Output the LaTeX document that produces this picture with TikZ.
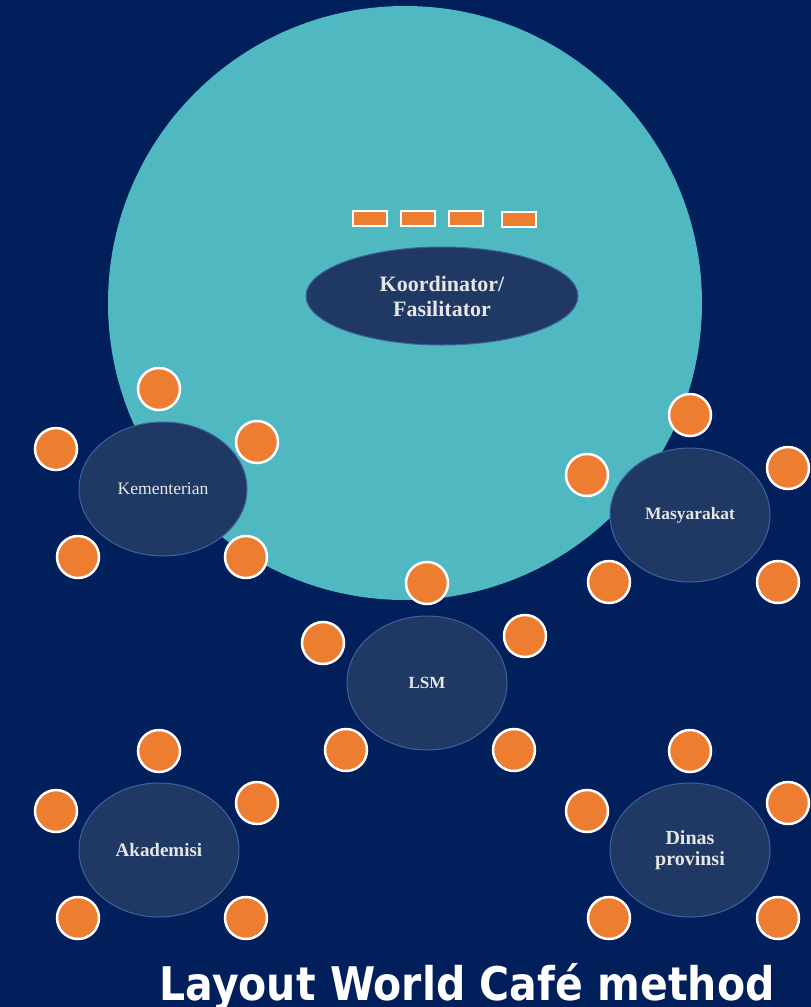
\documentclass[tikz,border=0pt]{standalone}
\usepackage{fontspec}
\setmainfont{Liberation Serif}
\newfontfamily\titlefont{DejaVu Sans}
\usetikzlibrary{shapes.geometric}
\definecolor{navybg}{RGB}{0,31,91}
\definecolor{roomteal}{RGB}{79,184,193}
\definecolor{tableblue}{RGB}{32,56,100}
\definecolor{tableedge}{RGB}{60,100,160}
\definecolor{seatorange}{RGB}{237,125,49}
\definecolor{labelgray}{RGB}{230,230,230}
\newcommand{\fsz}[1]{\fontsize{#1}{1.15\dimexpr#1pt\relax}\selectfont}
\tikzset{
  seat/.style={circle, fill=seatorange, draw=white, line width=2.5pt,
    minimum size=42pt, inner sep=0pt},
  desk/.style={rectangle, fill=seatorange, draw=white, line width=2pt,
    minimum width=34pt, minimum height=15pt, inner sep=0pt},
  table/.style={ellipse, fill=tableblue, draw=tableedge, line width=1pt,
    minimum width=160pt, minimum height=134pt, inner sep=0pt,
    text=labelgray, align=center},
}
\begin{document}
\begin{tikzpicture}[x=1pt,y=-1pt]
  % background and room
  \fill[navybg] (0,0) rectangle (811,1007);
  \useasboundingbox (0,0) rectangle (811,1007);
  \node[circle, fill=roomteal, minimum size=594pt, inner sep=0pt] (room) at (405,303) {};

  % coordinator desks
  \node[desk] (d1) at (369.5,218) {};
  \node[desk] (d2) at (417.5,218) {};
  \node[desk] (d3) at (465.5,218) {};
  \node[desk] (d4) at (518.5,219) {};

  \node[ellipse, fill=tableblue, draw=tableedge, line width=1pt,
    minimum width=272pt, minimum height=98pt, inner sep=0pt,
    text=labelgray, font=\fontsize{22}{25}\selectfont\bfseries, align=center]
    (coord) at (442,296) {Koordinator/\\Fasilitator};

  % Kementerian
  \node[seat] (k1) at (159,389) {};
  \node[seat] (k2) at (56,449) {};
  \node[seat] (k3) at (257,442) {};
  \node[seat] (k4) at (78,557) {};
  \node[seat] (k5) at (246,557) {};
  \node[table, minimum width=168pt, font=\fontsize{17.6}{20}\selectfont] (kem) at (163,489) {Kementerian};

  % Masyarakat
  \node[seat] (m1) at (690,415) {};
  \node[seat] (m2) at (587,475) {};
  \node[seat] (m3) at (788,468) {};
  \node[seat] (m4) at (609,582) {};
  \node[seat] (m5) at (778,582) {};
  \node[table, font=\fontsize{17.4}{20}\selectfont\bfseries] (mas) at (690,515) {Masyarakat};

  % LSM
  \node[seat] (l1) at (427,583) {};
  \node[seat] (l2) at (323,643) {};
  \node[seat] (l3) at (525,636) {};
  \node[seat] (l4) at (346,750) {};
  \node[seat] (l5) at (514,750) {};
  \node[table, font=\fontsize{17}{20}\selectfont\bfseries] (lsm) at (427,683) {LSM};

  % Akademisi
  \node[seat] (a1) at (159,751) {};
  \node[seat] (a2) at (56,811) {};
  \node[seat] (a3) at (257,803) {};
  \node[seat] (a4) at (78,918) {};
  \node[seat] (a5) at (246,918) {};
  \node[table, font=\fontsize{19}{22}\selectfont\bfseries] (aka) at (159,850) {Akademisi};

  % Dinas provinsi
  \node[seat] (p1) at (690,751) {};
  \node[seat] (p2) at (587,811) {};
  \node[seat] (p3) at (788,803) {};
  \node[seat] (p4) at (609,918) {};
  \node[seat] (p5) at (778,918) {};
  \node[table, font=\fontsize{20}{21}\selectfont\bfseries] (din) at (690,850) {Dinas\\provinsi};

  % title
  \node[anchor=base, text=white, inner sep=0pt] (title) at (467,1000)
    {\scalebox{1}[1.13]{\resizebox{615pt}{!}{\titlefont\bfseries Layout World Café method}}};
\end{tikzpicture}
\end{document}
